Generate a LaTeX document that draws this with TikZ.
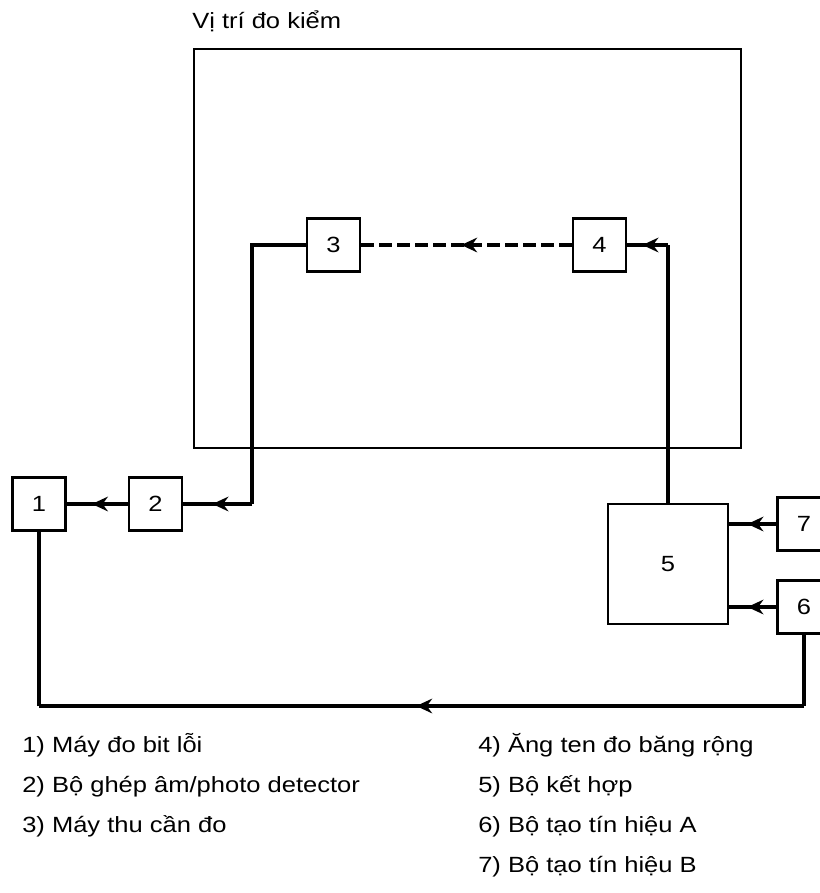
\documentclass[tikz,border=0pt]{standalone}
\usepackage{fontspec}
\setmainfont{Liberation Sans}[FakeStretch=1.16]
\usetikzlibrary{arrows.meta, decorations.markings}
\newcommand{\diagfont}{\fontsize{16.5}{19}\selectfont}

\begin{document}
\begin{tikzpicture}[x=0.75pt, y=-0.75pt]
    % Estilo para los bloques
    \tikzstyle{block_style} = [rectangle, draw=black, line width=2.2pt, fill=white, minimum size=39.75pt, inner sep=0pt, font=\diagfont]

    % Estilo para las lineas
    \tikzstyle{line_style} = [line width=2.3pt, draw=black]

    % Flecha en medio de la linea
    \tikzstyle{mid_arrow} = [line_style, postaction={decorate}, decoration={markings, mark=at position 0.5 with {\arrow[xshift=4pt]{Stealth[length=12pt, width=11pt, inset=4pt]}}}]

    % Estilo para la leyenda
    \tikzstyle{legend_style} = [anchor=base west, inner sep=0pt, font=\diagfont]

    \useasboundingbox (0,0) rectangle (820,893);

    % Zona de medida
    \node[anchor=base west, inner sep=0pt, font=\diagfont] (title) at (192,28) {Vị trí đo kiểm};
    \draw[line width=2.2pt] (194,49) rectangle (741,448);

    % Bloques
    \node[block_style] (n1) at (39,504) {1};
    \node[block_style] (n2) at (155.5,504) {2};
    \node[block_style] (n3) at (333.5,245) {3};
    \node[block_style] (n4) at (599.5,245) {4};
    \node[block_style, minimum size=90pt] (n5) at (668,564) {5};
    \node[block_style] (n7) at (804,524) {7};
    \node[block_style] (n6) at (804,607) {6};

    % Puntos de quiebre
    \coordinate (c3) at (252,245);
    \coordinate (c2) at (252,504);
    \coordinate (c4) at (668,245);
    \coordinate (c6) at (804,706);
    \coordinate (c1) at (39,706);

    % Conexiones
    \draw[line_style] (n3) -- (c3) -- (c2);
    \draw[mid_arrow] (c2) -- (n2);
    \draw[mid_arrow] (n2) -- (n1);
    \draw[mid_arrow, dash pattern=on 9.5pt off 4pt] (n4) -- (n3);
    \draw[line_style] (n5) -- (c4);
    \draw[mid_arrow] (c4) -- (n4);
    \draw[mid_arrow] (n7) -- (n7 -| n5.east);
    \draw[mid_arrow] (n6) -- (n6 -| n5.east);
    \draw[line_style] (n6) -- (c6);
    \draw[mid_arrow] (c6) -- (c1);
    \draw[line_style] (c1) -- (n1);

    % Leyenda
    \node[legend_style] (l1) at (22,752) {1) Máy đo bit lỗi};
    \node[legend_style] (l2) at (22,792) {2) Bộ ghép âm/photo detector};
    \node[legend_style] (l3) at (22,832) {3) Máy thu cần đo};
    \node[legend_style] (l4) at (478,752) {4) Ăng ten đo băng rộng};
    \node[legend_style] (l5) at (478,792) {5) Bộ kết hợp};
    \node[legend_style] (l6) at (478,832) {6) Bộ tạo tín hiệu A};
    \node[legend_style] (l7) at (478,872) {7) Bộ tạo tín hiệu B};

\end{tikzpicture}
\end{document}
